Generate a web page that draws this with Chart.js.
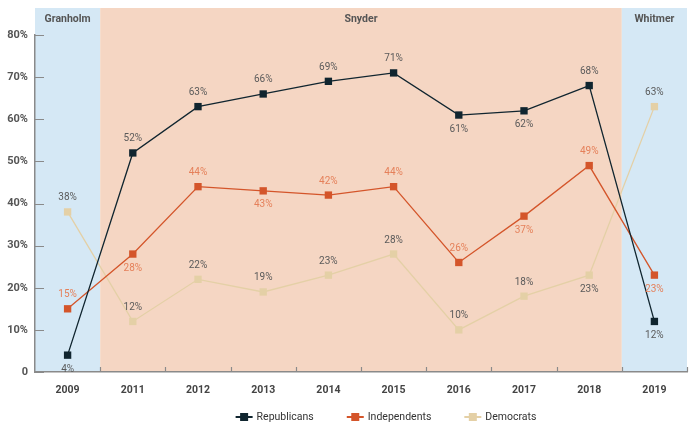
<!DOCTYPE html>
<html>
<head>
<meta charset="utf-8">
<script src="https://cdn.jsdelivr.net/npm/chart.js@4/dist/chart.umd.min.js"></script>
<style>
html,body{margin:0;padding:0;background:#fff;}
#wrap{width:694px;height:425px;position:relative;}
</style>
</head>
<body>
<div id="wrap"><canvas id="c" width="694" height="425"></canvas></div>
<script>
const categories = ['2009','2011','2012','2013','2014','2015','2016','2017','2018','2019'];
const republicans = [4,52,63,66,69,71,61,62,68,12];
const independents = [15,28,44,43,42,44,26,37,49,23];
const democrats = [38,12,22,19,23,28,10,18,23,63];
const yTickValues = [0,10,20,30,40,50,60,70,80];
const governors = ['Granholm','Snyder','Whitmer'];
const governorStart = [0,1,9];
const governorEnd = [0,8,9];

const FONT = "Roboto,'DejaVu Sans',sans-serif";
const colors = {rep:'#10252f', ind:'#d4552a', dem:'#e4d0a6'};
const labelColors = ['#5a5a5a','#e5805a','#5a5a5a'];
const labelSides = [
  ['below','above','above','above','above','above','below','below','above','below'],
  ['above','below','above','below','above','above','above','below','above','below'],
  ['above','above','above','above','above','above','above','above','below','above']
];
const regionFill = ['#d5e8f5','#f5d6c3','#d5e8f5'];

const bgPlugin = {
  id:'bg',
  beforeDraw(chart){
    const {ctx, chartArea, scales:{x}} = chart;
    const step = x.getPixelForValue(1) - x.getPixelForValue(0);
    ctx.save();
    governors.forEach((g,i)=>{
      const l = x.getPixelForValue(governorStart[i]) - step/2;
      const r = x.getPixelForValue(governorEnd[i]) + step/2;
      ctx.fillStyle = regionFill[i];
      ctx.fillRect(l, 8, r-l, chartArea.bottom-8);
      ctx.fillStyle = '#555';
      ctx.font = "bold 10.5px " + FONT;
      ctx.textAlign = 'center';
      ctx.textBaseline = 'middle';
      ctx.fillText(g, (l+r)/2, 19);
    });
    ctx.restore();
  },
  beforeDatasetsDraw(chart){
    const {ctx, chartArea, scales:{x,y}} = chart;
    const step = x.getPixelForValue(1) - x.getPixelForValue(0);
    ctx.save();
    ctx.strokeStyle = '#8a8a8a';
    ctx.lineWidth = 1.2;
    ctx.beginPath();
    yTickValues.forEach(v=>{
      const py = Math.round(y.getPixelForValue(v))+0.5;
      ctx.moveTo(chartArea.left, py); ctx.lineTo(chartArea.left+9, py);
    });
    for(let i=0;i<categories.length;i++){
      const px = Math.round(x.getPixelForValue(i)+step/2)+0.5;
      ctx.moveTo(px, chartArea.bottom); ctx.lineTo(px, chartArea.bottom-5);
    }
    ctx.stroke();
    ctx.restore();
  },
  afterDatasetsDraw(chart){
    const {ctx} = chart;
    ctx.save();
    ctx.font = "10px " + FONT;
    ctx.textAlign = 'center';
    ctx.textBaseline = 'middle';
    chart.data.datasets.forEach((ds,di)=>{
      const meta = chart.getDatasetMeta(di);
      ctx.fillStyle = labelColors[di];
      meta.data.forEach((pt,i)=>{
        const dy = labelSides[di][i]==='above' ? -14 : 14;
        ctx.fillText(ds.data[i]+'%', pt.x, pt.y+dy);
      });
    });
    ctx.restore();
  },
  afterDraw(chart){
    const {ctx} = chart;
    ctx.save();
    ctx.font = "10.5px " + FONT;
    ctx.textBaseline = 'middle';
    ctx.textAlign = 'left';
    const dsets = chart.data.datasets;
    const markW = 17, gapT = 4, gapI = 33;
    const widths = dsets.map(d=> markW + gapT + ctx.measureText(d.label).width);
    const total = widths.reduce((a,b)=>a+b,0) + gapI*(dsets.length-1);
    let x0 = 386 - total/2;
    const yc = 417;
    dsets.forEach((d,i)=>{
      ctx.fillStyle = d.borderColor;
      ctx.fillRect(x0, yc-1, markW, 2);
      ctx.fillRect(x0+4.5, yc-4, 8, 8);
      ctx.fillStyle = '#333';
      ctx.fillText(d.label, x0+markW+gapT, yc);
      x0 += widths[i] + gapI;
    });
    ctx.restore();
  }
};

function ds(label, data, color){
  return {
    label, data,
    borderColor: color, backgroundColor: color,
    borderWidth: 1.3,
    pointStyle: 'rect', pointRadius: 5.2, pointBorderWidth: 0,
    pointBackgroundColor: color, pointHoverRadius: 5.2,
    tension: 0, clip: false
  };
}

new Chart(document.getElementById('c'), {
  type:'line',
  data:{
    labels: categories,
    datasets:[
      ds('Republicans', republicans, colors.rep),
      ds('Independents', independents, colors.ind),
      ds('Democrats', democrats, colors.dem)
    ]
  },
  options:{
    responsive:false,
    animation:false,
    events:[],
    layout:{padding:{top:35,right:7,left:0,bottom:13}},
    plugins:{
      tooltip:{enabled:false},
      legend:{display:false}
    },
    scales:{
      x:{
        type:'category',
        offset:true,
        grid:{display:false,drawTicks:false},
        border:{display:true,color:'#8a8a8a',width:1.5},
        ticks:{color:'#444',font:{family:FONT,size:10.5,weight:'bold'},padding:12,maxRotation:0},
        afterFit(s){ s.height = 40; }
      },
      y:{
        min:0,max:80,
        grid:{display:false,drawTicks:false},
        border:{display:true,color:'#8a8a8a',width:1.5},
        afterBuildTicks(s){ s.ticks = yTickValues.map(v=>({value:v})); },
        ticks:{
          color:'#555',
          font:{family:FONT,size:11,weight:'bold'},
          padding:7,
          callback:v=> v===0 ? '0' : v+'%'
        },
        afterFit(s){ s.width = 35; }
      }
    }
  },
  plugins:[bgPlugin]
});
</script>
</body>
</html>
